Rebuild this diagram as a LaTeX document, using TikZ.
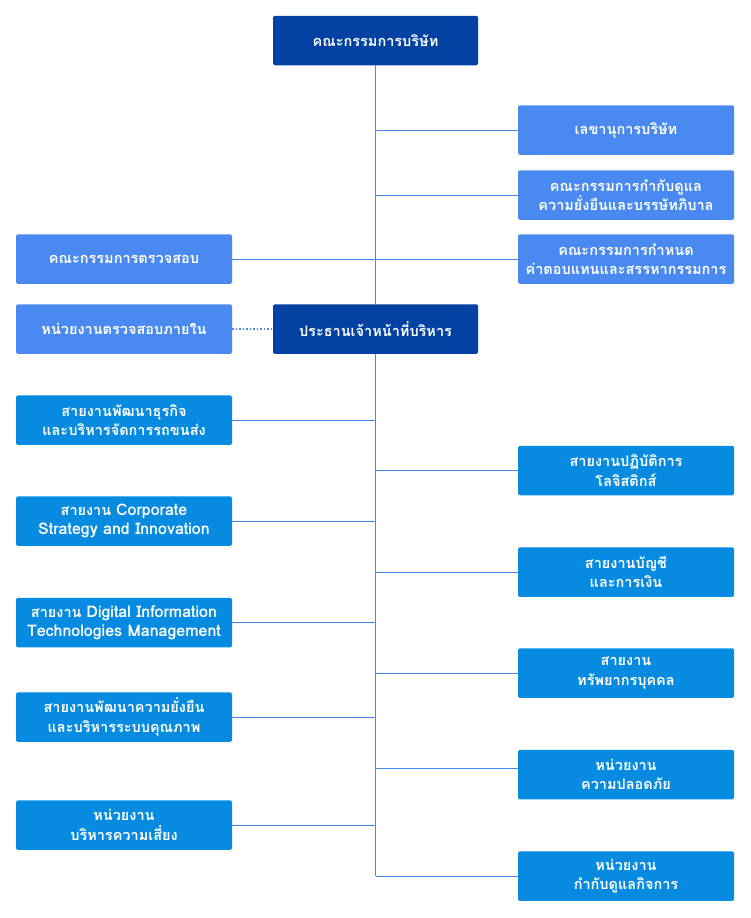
\documentclass[tikz,border=0pt]{standalone}
\usepackage{fontspec}
\newfontfamily\thaifont[Script=Thai]{Loma}
\newcommand{\lat}[1]{{\fontsize{16}{19.5}\selectfont #1}}
\definecolor{darkbox}{HTML}{0341A3}
\definecolor{lightbox}{HTML}{4A8AF0}
\definecolor{midbox}{HTML}{078BE0}
\definecolor{linkblue}{HTML}{4A86E8}
\tikzset{
  box/.style={rectangle, rounded corners=1.5pt, text=white, align=center,
    minimum width=216pt, minimum height=49.5pt, inner sep=2pt,
    font=\thaifont\bfseries\fontsize{14.5}{19.5}\selectfont},
  topbox/.style={box, fill=darkbox, minimum width=205pt},
  lbox/.style={box, fill=lightbox},
  mbox/.style={box, fill=midbox},
  link/.style={draw=linkblue, line width=1pt},
  dotlink/.style={draw=linkblue, line width=1.2pt, dash pattern=on 1.5pt off 2pt}
}
\begin{document}
\begin{tikzpicture}[x=1pt,y=-1pt]
\useasboundingbox (0,0) rectangle (750,918);
% nodes
\node[topbox] (board) at (375.5,40.5) {คณะกรรมการบริษัท};
\node[lbox] (sec) at (626,130) {เลขานุการบริษัท};
\node[lbox] (ogov) at (626,195) {คณะกรรมการกำกับดูแล\\ความยั่งยืนและบรรษัทภิบาล};
\node[lbox] (rem) at (626,259) {คณะกรรมการกำหนด\\ค่าตอบแทนและสรรหากรรมการ};
\node[lbox] (audit) at (124,259) {คณะกรรมการตรวจสอบ};
\node[lbox] (ia) at (124,329) {หน่วยงานตรวจสอบภายใน};
\node[topbox] (ceo) at (375.5,329) {ประธานเจ้าหน้าที่บริหาร};
\node[mbox] (bd) at (124,420) {สายงานพัฒนาธุรกิจ\\และบริหารจัดการรถขนส่ง};
\node[mbox] (corp) at (124,521) {สายงาน \lat{Corporate}\\\lat{Strategy and Innovation}};
\node[mbox] (dig) at (124,622.5) {สายงาน \lat{Digital Information}\\\lat{Technologies Management}};
\node[mbox] (sus) at (124,717) {สายงานพัฒนาความยั่งยืน\\และบริหารระบบคุณภาพ};
\node[mbox] (risk) at (124,825) {หน่วยงาน\\บริหารความเสี่ยง};
\node[mbox] (ops) at (626,470.5) {สายงานปฏิบัติการ\\โลจิสติกส์};
\node[mbox] (acc) at (626,572) {สายงานบัญชี\\และการเงิน};
\node[mbox] (hr) at (626,673) {สายงาน\\ทรัพยากรบุคคล};
\node[mbox] (saf) at (626,774.5) {หน่วยงาน\\ความปลอดภัย};
\node[mbox] (gov) at (626,876) {หน่วยงาน\\กำกับดูแลกิจการ};
% trunk
\coordinate (end) at (board.south |- gov.west);
\draw[link] (board.south) -- (ceo.north);
\draw[link] (ceo.south) -- (end);
% upper links
\draw[link] (sec.west) -- (sec.west -| board.south);
\draw[link] (ogov.west) -- (ogov.west -| board.south);
\draw[link] (audit.east) -- (rem.west);
\draw[dotlink] (ia.east) -- (ceo.west);
% lower links
\draw[link] (bd.east) -- (bd.east -| ceo.south);
\draw[link] (corp.east) -- (corp.east -| ceo.south);
\draw[link] (dig.east) -- (dig.east -| ceo.south);
\draw[link] (sus.east) -- (sus.east -| ceo.south);
\draw[link] (risk.east) -- (risk.east -| ceo.south);
\draw[link] (ops.west) -- (ops.west -| ceo.south);
\draw[link] (acc.west) -- (acc.west -| ceo.south);
\draw[link] (hr.west) -- (hr.west -| ceo.south);
\draw[link] ([yshift=6.5pt]saf.west) -- ([yshift=6.5pt]saf.west -| ceo.south);
\draw[link] (gov.west) -- (end);
\end{tikzpicture}
\end{document}
